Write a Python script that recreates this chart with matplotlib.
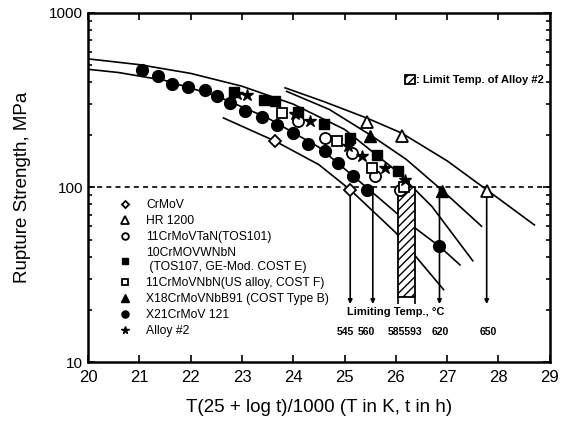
import matplotlib.pyplot as plt
from matplotlib.ticker import LogLocator, NullFormatter, FixedLocator

plt.rcParams['font.family'] = ['Liberation Sans', 'DejaVu Sans']

# data points
crmov_x = [23.65, 25.11]
crmov_y = [184, 97]
hr_x = [25.43, 26.11, 27.77]
hr_y = [236, 196, 95]
tos101_x = [24.10, 24.62, 25.14, 25.60, 26.08]
tos101_y = [239, 192, 158, 116, 97]
cost_e_x = [22.85, 23.42, 23.65, 24.10, 24.60, 25.11, 25.63, 26.05]
cost_e_y = [350, 318, 311, 270, 232, 192, 154, 124]
cost_f_x = [23.78, 24.85, 25.53, 26.15]
cost_f_y = [267, 184, 129, 100]
cost_b_x = [25.50, 26.89]
cost_b_y = [196, 95]
x21_x = [21.05, 21.36, 21.63, 21.94, 22.27, 22.51, 22.77, 23.06, 23.39, 23.68,
         24.00, 24.29, 24.62, 24.88, 25.17, 25.43, 26.85]
x21_y = [472, 437, 391, 376, 360, 333, 305, 273, 254, 229,
         205, 178, 161, 138, 116, 97, 46]
alloy2_x = [22.90, 23.09, 24.04, 24.33, 25.07, 25.34, 25.79, 26.18]
alloy2_y = [345, 340, 262, 239, 172, 151, 129, 111]

# master curves
hr_line_x = [23.84, 24.6, 25.43, 26.11, 27.0, 27.77, 28.70]
hr_line_y = [372, 310, 250, 205, 142, 97, 61]
b_line_x = [23.87, 24.7, 25.5, 26.2, 26.89, 27.67]
b_line_y = [355, 280, 200, 145, 97, 60]
up_line_x = [20.0, 21.0, 22.0, 23.0, 24.0, 25.0, 26.0, 26.7, 27.5]
up_line_y = [545, 505, 450, 380, 300, 215, 125, 78, 38]
low_line_x = [20.0, 20.6, 21.5, 22.5, 23.5, 24.5, 25.43, 26.2, 26.85, 27.25]
low_line_y = [475, 455, 410, 335, 250, 170, 100, 64, 46, 36]
crmov_line_x = [22.64, 23.65, 24.5, 25.11, 26.0, 26.93]
crmov_line_y = [250, 184, 135, 97, 55, 26]

# limiting temperatures
arrow_x = [25.11, 25.55, 26.85, 27.77]
bar_left = 26.05
bar_right = 26.37
limit_labels = ['545', '560', '585593', '620', '650']
limit_label_x = [25.01, 25.43, 26.18, 26.86, 27.80]

fig = plt.figure(figsize=(5.61, 4.28), dpi=100)
ax = fig.add_axes([0.157, 0.154, 0.823, 0.816])
ax.set_yscale('log')
ax.set_xlim(20, 29)
ax.set_ylim(10, 1000)

for lx, ly in [(hr_line_x, hr_line_y), (b_line_x, b_line_y), (up_line_x, up_line_y),
               (low_line_x, low_line_y), (crmov_line_x, crmov_line_y)]:
    ax.plot(lx, ly, color='black', lw=1.2, zorder=2)

ax.axhline(100, color='black', lw=1.2, ls=(0, (3, 2.5)), zorder=1)

bottom = 21.5
bar = ax.bar((bar_left + bar_right) / 2, 100 - 23.5, bottom=23.5,
             width=bar_right - bar_left, facecolor='white', edgecolor='black',
             hatch='////', lw=1.3, zorder=3)
ax.vlines([bar_left, bar_right], bottom, 23.5, color='black', lw=1.2, zorder=3)
for x in arrow_x:
    ax.annotate('', xy=(x, bottom), xytext=(x, 100),
                arrowprops=dict(arrowstyle='-|>', color='black', lw=1.2,
                                mutation_scale=6, shrinkA=0, shrinkB=0), zorder=3)

mk = dict(color='black', ls='none', zorder=4)
h1, = ax.plot(crmov_x, crmov_y, marker='D', ms=6, mfc='white', mew=1.3, **mk)
h2, = ax.plot(hr_x, hr_y, marker='^', ms=8.5, mfc='white', mew=1.3, **mk)
h3, = ax.plot(tos101_x, tos101_y, marker='o', ms=8, mfc='white', mew=1.3, **mk)
h4, = ax.plot(cost_e_x, cost_e_y, marker='s', ms=7, **mk)
h5, = ax.plot(cost_f_x, cost_f_y, marker='s', ms=7, mfc='white', mew=1.3, **mk)
h6, = ax.plot(cost_b_x, cost_b_y, marker='^', ms=8.5, **mk)
h7, = ax.plot(x21_x, x21_y, marker='o', ms=8.5, **mk)
h8, = ax.plot(alloy2_x, alloy2_y, marker='*', ms=9, **mk)

labels = ['CrMoV', 'HR 1200', '11CrMoVTaN(TOS101)',
          '10CrMOVWNbN\n (TOS107, GE-Mod. COST E)',
          '11CrMoVNbN(US alloy, COST F)', 'X18CrMoVNbB91 (COST Type B)',
          'X21CrMoV 121', 'Alloy #2']
leg = ax.legend([h1, h2, h3, h4, h5, h6, h7, h8], labels, loc='upper left',
                bbox_to_anchor=(0.045, 0.49), frameon=False,
                prop=dict(size=8.7), handlelength=1.2,
                handletextpad=1.2, labelspacing=0.33, markerscale=0.6,
                borderpad=0.2)
ax.add_artist(leg)
ax.legend([bar], [': Limit Temp. of Alloy #2'], loc='center right',
          bbox_to_anchor=(1.0, 0.808), frameon=False,
          prop=dict(size=8, weight='bold'), handlelength=0.9, handleheight=0.9,
          handletextpad=0.1, borderaxespad=0.1)

ax.text(26.0, 19.3, 'Limiting Temp., °C', ha='center', va='center',
        fontsize=8, fontweight='bold')
for x, s in zip(limit_label_x, limit_labels):
    ax.text(x, 14.8, s, ha='center', va='center', fontsize=7.5, fontweight='bold')

ax.xaxis.set_major_locator(FixedLocator(range(20, 30)))
ax.yaxis.set_major_locator(LogLocator(base=10))
ax.yaxis.set_minor_locator(LogLocator(base=10, subs=range(2, 10)))
ax.yaxis.set_minor_formatter(NullFormatter())
ax.set_yticks([10, 100, 1000])
ax.set_yticklabels(['10', '100', '1000'])
ax.tick_params(which='both', direction='in', top=True, right=True, width=1.2)
ax.tick_params(which='major', length=5)
ax.tick_params(axis='x', labelsize=12, pad=6)
ax.tick_params(axis='y', labelsize=11)
ax.tick_params(which='minor', length=3)
for s in ax.spines.values():
    s.set_linewidth(1.8)

ax.set_xlabel('T(25 + log t)/1000 (T in K, t in h)', fontsize=13.5, labelpad=10)
ax.set_ylabel('Rupture Strength, MPa', fontsize=13.5, labelpad=13)

fig.savefig('out.png', dpi=100)
